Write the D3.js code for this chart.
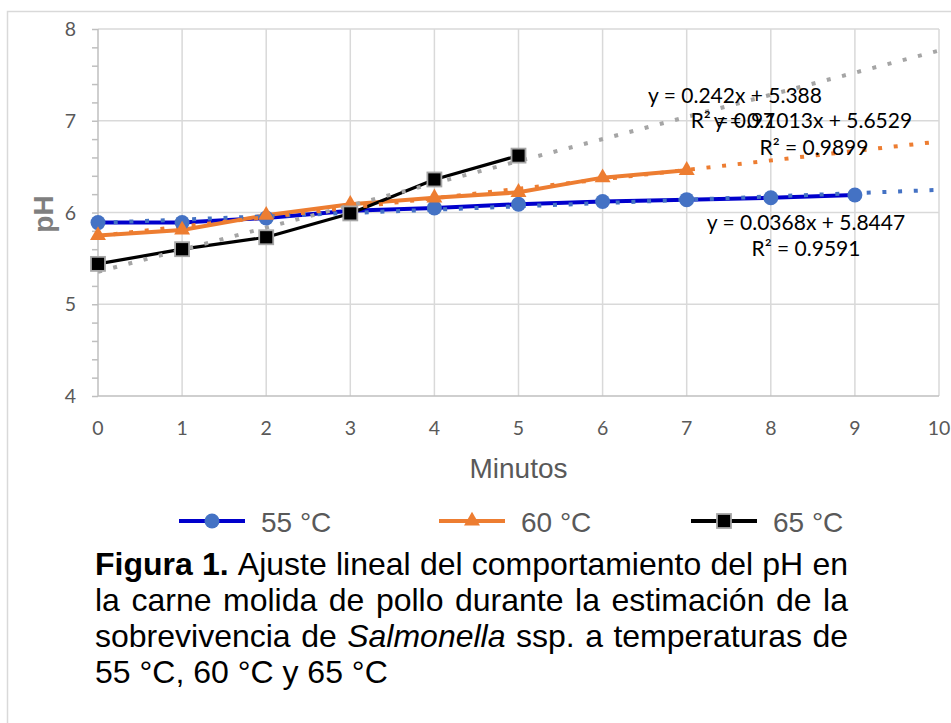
<!DOCTYPE html>
<html>
<head>
<meta charset="utf-8">
<script src="https://cdn.jsdelivr.net/npm/d3@7"></script>
<style>
  body { margin: 0; background: #fff; }
  .tick-lbl { font-family: Lato, "Open Sans", sans-serif; font-size: 19.5px; fill: #595959; }
  .eq { font-family: Lato, "Open Sans", sans-serif; font-size: 21px; fill: #000; }
  .arial { font-family: "Liberation Sans", Arial, sans-serif; }
</style>
</head>
<body>
<div id="chart"></div>
<script>
// data
var xTicks = [0, 1, 2, 3, 4, 5, 6, 7, 8, 9, 10];
var yTicks = [4, 5, 6, 7, 8];
var seriesNames = ["55 °C", "60 °C", "65 °C"];
var minutos55 = [0, 1, 2, 3, 4, 5, 6, 7, 8, 9];
var ph55 = [5.89, 5.89, 5.94, 6.02, 6.05, 6.09, 6.12, 6.14, 6.16, 6.19];
var minutos60 = [0, 1, 2, 3, 4, 5, 6, 7];
var ph60 = [5.75, 5.81, 5.97, 6.09, 6.16, 6.22, 6.38, 6.46];
var minutos65 = [0, 1, 2, 3, 4, 5];
var ph65 = [5.44, 5.60, 5.73, 5.99, 6.36, 6.62];
var eqLabels = ["y = 0.0368x + 5.8447", "y = 0.1013x + 5.6529", "y = 0.242x + 5.388"];
var r2Labels = ["R² = 0.9591", "R² = 0.9899", "R² = 0.97"];
var captionLines = [
  "**Figura** **1.** Ajuste lineal del comportamiento del pH en",
  "la carne molida de pollo durante la estimación de la",
  "sobrevivencia de *Salmonella* ssp. a temperaturas de",
  "55 °C, 60 °C y 65 °C"
];

var W = 951, H = 723;
var margin = {top: 29, right: 12, bottom: 327, left: 98};
var width = 939 - margin.left,
    height = 396 - margin.top;

var lineColors = ["#0000CC", "#ED7D31", "#000000"];
var markColors = ["#4472C4", "#ED7D31", "#000000"];
var trendColors = ["#4472C4", "#ED7D31", "#A5A5A5"];

var series = [
  {name: seriesNames[0], pts: minutos55.map(function(m, i) { return {x: m, y: ph55[i]}; })},
  {name: seriesNames[1], pts: minutos60.map(function(m, i) { return {x: m, y: ph60[i]}; })},
  {name: seriesNames[2], pts: minutos65.map(function(m, i) { return {x: m, y: ph65[i]}; })}
];

var svg = d3.select("#chart").append("svg")
  .attr("width", W)
  .attr("height", H);

// outer chart frame (runs off the page on right and bottom)
svg.append("rect")
  .attr("x", 7.5).attr("y", 11.5)
  .attr("width", 1000).attr("height", 800)
  .attr("fill", "none")
  .attr("stroke", "#D9D9D9")
  .attr("stroke-width", 1.5);

var g = svg.append("g")
  .attr("transform", "translate(" + margin.left + "," + margin.top + ")");

var x = d3.scaleLinear().domain([0, 10]).range([0, width]);
var y = d3.scaleLinear().domain([4, 8]).range([height, 0]);

// gridlines
g.append("g").selectAll("line.hg")
  .data(yTicks.slice(1))
  .enter().append("line")
    .attr("x1", 0).attr("x2", width)
    .attr("y1", function(d) { return y(d); })
    .attr("y2", function(d) { return y(d); })
    .attr("stroke", "#D9D9D9").attr("stroke-width", 1.5);

g.append("g").selectAll("line.vg")
  .data(xTicks.slice(1))
  .enter().append("line")
    .attr("x1", function(d) { return x(d); })
    .attr("x2", function(d) { return x(d); })
    .attr("y1", 0).attr("y2", height)
    .attr("stroke", "#D9D9D9").attr("stroke-width", 1.5);

// y axis with minor ticks
var yAxis = g.append("g")
  .call(d3.axisLeft(y).ticks(20).tickSize(6).tickFormat(""));
yAxis.selectAll("line").attr("stroke", "#BFBFBF").attr("stroke-width", 1.5);
yAxis.select(".domain").attr("stroke", "#BFBFBF").attr("stroke-width", 1.5)
  .attr("d", "M0," + y(8) + "V" + y(4));

g.append("g").selectAll("text")
  .data(yTicks)
  .enter().append("text")
    .attr("class", "tick-lbl")
    .attr("x", -22)
    .attr("y", function(d) { return y(d); })
    .attr("dy", "0.36em")
    .attr("text-anchor", "end")
    .text(function(d) { return d; });

// x axis
var xAxis = g.append("g")
  .attr("transform", "translate(0," + height + ")")
  .call(d3.axisBottom(x).tickValues(xTicks).tickSize(0).tickPadding(0).tickFormat(""));
xAxis.select(".domain").attr("stroke", "#BFBFBF").attr("stroke-width", 1.5)
  .attr("d", "M0,0H" + width);

g.append("g").selectAll("text")
  .data(xTicks)
  .enter().append("text")
    .attr("class", "tick-lbl")
    .attr("x", function(d) { return x(d); })
    .attr("y", height + 32)
    .attr("dy", "0.36em")
    .attr("text-anchor", "middle")
    .text(function(d) { return d; });

// axis titles
svg.append("text")
  .attr("class", "arial")
  .attr("x", margin.left + width / 2)
  .attr("y", 478)
  .attr("text-anchor", "middle")
  .attr("font-size", 28)
  .attr("fill", "#595959")
  .text("Minutos");

svg.append("text")
  .attr("class", "arial")
  .attr("transform", "translate(53,214) rotate(-90)")
  .attr("text-anchor", "middle")
  .attr("font-size", 28)
  .attr("font-weight", "bold")
  .attr("fill", "#7F7F7F")
  .text("pH");

// series lines
var line = d3.line()
  .x(function(d) { return x(d.x); })
  .y(function(d) { return y(d.y); });

g.selectAll("path.series")
  .data(series)
  .enter().append("path")
    .attr("class", "series")
    .attr("d", function(d) { return line(d.pts); })
    .attr("fill", "none")
    .attr("stroke", function(d, i) { return lineColors[i]; })
    .attr("stroke-width", function(d, i) { return i == 2 ? 3.2 : 4; })
    .attr("stroke-linejoin", "round");

// linear trendlines (least squares), forecast forward to 10
function fit(pts) {
  var mx = d3.mean(pts, function(p) { return p.x; }),
      my = d3.mean(pts, function(p) { return p.y; });
  var sxy = d3.sum(pts, function(p) { return (p.x - mx) * (p.y - my); }),
      sxx = d3.sum(pts, function(p) { return (p.x - mx) * (p.x - mx); });
  var b = sxy / sxx;
  return {b: b, a: my - b * mx};
}

g.selectAll("line.trend")
  .data(series)
  .enter().append("line")
    .attr("class", "trend")
    .each(function(d, i) {
      var f = fit(d.pts);
      d3.select(this)
        .attr("x1", x(0)).attr("y1", y(f.a))
        .attr("x2", x(10)).attr("y2", y(f.a + f.b * 10))
        .attr("stroke", trendColors[i])
        .attr("stroke-width", 4)
        .attr("stroke-dasharray", "4,11.7");
    });

// markers
function drawMarker(sel, i) {
  if (i == 0) {
    sel.append("circle").attr("r", 7.5).attr("fill", markColors[0]);
  } else if (i == 1) {
    sel.append("path")
      .attr("d", d3.symbol(d3.symbolTriangle, 110)())
      .attr("fill", markColors[1]);
  } else {
    sel.append("rect")
      .attr("x", -7).attr("y", -7).attr("width", 14).attr("height", 14)
      .attr("fill", "#000").attr("stroke", "#A6A6A6").attr("stroke-width", 1.8);
  }
}

series.forEach(function(s, i) {
  g.append("g").selectAll("g")
    .data(s.pts)
    .enter().append("g")
      .attr("transform", function(d) { return "translate(" + x(d.x) + "," + y(d.y) + ")"; })
      .each(function() { drawMarker(d3.select(this), i); });
});

// trendline labels (the 65 °C R² overlaps the 60 °C equation, as in the source)
var eqPos = [[806, 230, 806, 256], [813, 128, 814, 155], [735, 103, 733, 128]];
eqPos.forEach(function(p, i) {
  svg.append("text").attr("class", "eq")
    .attr("x", p[0]).attr("y", p[1]).attr("text-anchor", "middle")
    .text(eqLabels[i]);
  svg.append("text").attr("class", "eq")
    .attr("x", p[2]).attr("y", p[3]).attr("text-anchor", "middle")
    .text(r2Labels[i]);
});

// legend
var legend = svg.selectAll(".legend")
  .data(seriesNames)
  .enter().append("g")
    .attr("class", "legend")
    .attr("transform", function(d, i) { return "translate(" + [179, 439, 691][i] + ",521)"; });

legend.append("line")
  .attr("x1", 0).attr("x2", 66)
  .attr("stroke", function(d, i) { return lineColors[i]; })
  .attr("stroke-width", 4);

legend.append("g")
  .attr("transform", "translate(33,0)")
  .each(function(d, i) { drawMarker(d3.select(this), i); });

legend.append("text")
  .attr("class", "arial")
  .attr("x", 82)
  .attr("y", 11)
  .attr("font-size", 28)
  .attr("fill", "#595959")
  .text(function(d) { return d; });

// caption, justified like the source document
var capLeft = 95, capRight = 848, capTop = 575, capStep = 36, capSize = 32;
captionLines.forEach(function(ln, li) {
  var words = ln.split(" ").map(function(w) {
    if (w.indexOf("**") == 0) return {t: w.replace(/\*\*/g, ""), w: "bold", s: "normal"};
    if (w.indexOf("*") == 0) return {t: w.replace(/\*/g, ""), w: "normal", s: "italic"};
    return {t: w, w: "normal", s: "normal"};
  });
  var nodes = words.map(function(wd) {
    return svg.append("text")
      .attr("class", "arial")
      .attr("font-size", capSize)
      .attr("font-weight", wd.w)
      .attr("font-style", wd.s)
      .attr("fill", "#000")
      .attr("y", capTop + li * capStep)
      .text(wd.t);
  });
  var widths = nodes.map(function(n) { return n.node().getComputedTextLength(); });
  var total = d3.sum(widths);
  var last = li == captionLines.length - 1;
  var gap = last ? 0.278 * capSize : (capRight - capLeft - total) / (words.length - 1);
  var cx = capLeft;
  nodes.forEach(function(n, k) {
    n.attr("x", cx);
    cx += widths[k] + gap;
  });
});
</script>
</body>
</html>
